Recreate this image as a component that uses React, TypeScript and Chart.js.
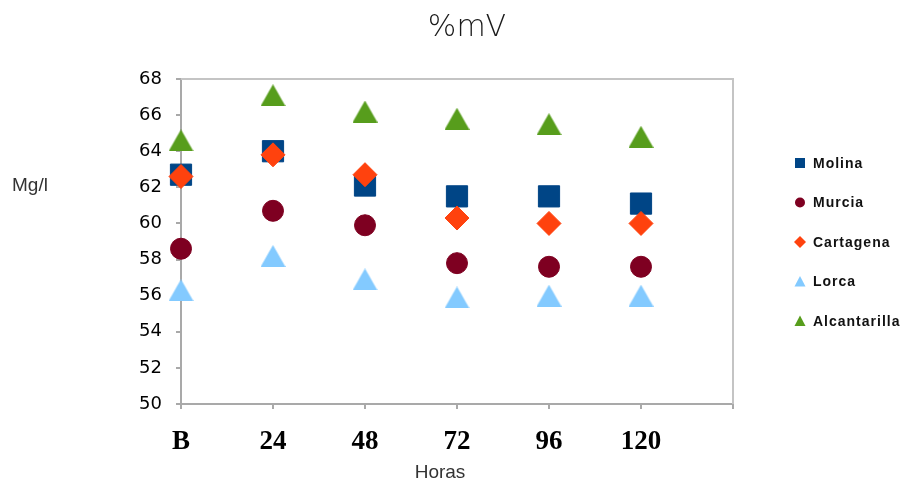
import { useEffect, useRef } from 'react';
import { Chart, registerables } from 'chart.js';

Chart.register(...registerables);

// Sampling times (B = baseline) and measured %mV per site
const hourLabels = ['B', '24', '48', '72', '96', '120'];
const molina = [62.7, 64.0, 62.1, 61.5, 61.5, 61.1];
const murcia = [58.6, 60.7, 59.9, 57.8, 57.6, 57.6];
const cartagena = [62.6, 63.8, 62.7, 60.3, 60.0, 60.0];
const lorca = [56.3, 58.2, 56.9, 55.9, 56.0, 56.0];
const alcantarilla = [64.6, 67.1, 66.2, 65.8, 65.5, 64.8];

const yMin = 50;
const yMax = 68;
const yStep = 2;

const chartTitle = '%mV';
const yTitle = 'Mg/l';
const xTitle = 'Horas';

type MarkerKind = 'rect' | 'circle' | 'diamond' | 'triangle';

const series: { label: string; values: number[]; color: string; marker: MarkerKind }[] = [
  { label: 'Molina', values: molina, color: '#004586', marker: 'rect' },
  { label: 'Murcia', values: murcia, color: '#7e0021', marker: 'circle' },
  { label: 'Cartagena', values: cartagena, color: '#ff420e', marker: 'diamond' },
  { label: 'Lorca', values: lorca, color: '#83caff', marker: 'triangle' },
  { label: 'Alcantarilla', values: alcantarilla, color: '#579d1c', marker: 'triangle' },
];

// Triangle drawn centred on its bounding box
function triangleImage(color: string, w: number, h: number) {
  const c = document.createElement('canvas');
  c.width = w;
  c.height = h;
  const g = c.getContext('2d')!;
  g.fillStyle = color;
  g.beginPath();
  g.moveTo(w / 2, 0);
  g.lineTo(w, h);
  g.lineTo(0, h);
  g.closePath();
  g.fill();
  return c;
}

function drawLegendMarker(ctx: CanvasRenderingContext2D, kind: MarkerKind, x: number, y: number, color: string) {
  ctx.fillStyle = color;
  ctx.beginPath();
  if (kind === 'rect') {
    ctx.rect(x - 5, y - 5, 10, 10);
  } else if (kind === 'circle') {
    ctx.arc(x, y, 5, 0, Math.PI * 2);
  } else if (kind === 'diamond') {
    ctx.moveTo(x, y - 6);
    ctx.lineTo(x + 6, y);
    ctx.lineTo(x, y + 6);
    ctx.lineTo(x - 6, y);
    ctx.closePath();
  } else {
    ctx.moveTo(x, y - 5.5);
    ctx.lineTo(x + 5.5, y + 5);
    ctx.lineTo(x - 5.5, y + 5);
    ctx.closePath();
  }
  ctx.fill();
}

const axisGray = '#a9a9a9';

const decorPlugin = {
  id: 'decor',
  afterDraw(chart: any) {
    const ctx: CanvasRenderingContext2D = chart.ctx;
    const { left, right, top, bottom } = chart.chartArea;
    ctx.save();

    // plot frame (top and right)
    ctx.strokeStyle = '#c4c4c4';
    ctx.lineWidth = 2;
    ctx.beginPath();
    ctx.moveTo(left, top);
    ctx.lineTo(right, top);
    ctx.lineTo(right, bottom);
    ctx.stroke();

    // title
    ctx.fillStyle = '#1a1a1a';
    ctx.font = '200 30px "DejaVu Sans"';
    ctx.textAlign = 'center';
    ctx.textBaseline = 'middle';
    ctx.fillText(chartTitle, 467, 28);

    // axis titles
    ctx.fillStyle = '#333';
    ctx.font = '19px "Liberation Sans"';
    ctx.textAlign = 'left';
    ctx.textBaseline = 'alphabetic';
    ctx.fillText(yTitle, 12, 191);
    ctx.textAlign = 'center';
    ctx.fillText(xTitle, 440, 478);

    // legend
    ctx.font = 'bold 14px "Liberation Sans"';
    (ctx as any).letterSpacing = '1px';
    ctx.textAlign = 'left';
    ctx.textBaseline = 'middle';
    series.forEach((s, i) => {
      const y = 163 + i * 39.5;
      drawLegendMarker(ctx, s.marker, 800, y, s.color);
      ctx.fillStyle = '#111';
      ctx.fillText(s.label, 813, y + 1);
    });
    ctx.restore();
  },
};

export default function App() {
  const canvasRef = useRef<HTMLCanvasElement | null>(null);

  useEffect(() => {
    const canvas = canvasRef.current;
    if (!canvas) return;

    const datasets = series.map((s, i) => {
      let pointStyle: any = 'rect';
      let radius = 15;
      if (s.marker === 'circle') {
        pointStyle = 'circle';
        radius = 10.5;
      } else if (s.marker === 'diamond') {
        pointStyle = 'rectRot';
        radius = 12;
      } else if (s.marker === 'triangle') {
        pointStyle = triangleImage(s.color, 25, 22);
        radius = 12;
      }
      return {
        label: s.label,
        data: s.values.map((v, idx) => ({ x: idx, y: v })),
        showLine: false,
        pointStyle,
        pointRadius: radius,
        pointHoverRadius: radius,
        pointBackgroundColor: s.color,
        pointBorderColor: s.color,
        pointBorderWidth: 1,
        backgroundColor: s.color,
        borderColor: s.color,
        clip: false as any,
        order: series.length - i,
      };
    });

    const gridOpts = {
      display: true,
      drawOnChartArea: false,
      drawTicks: true,
      tickLength: 5,
      color: axisGray,
      lineWidth: 2,
    };

    const chart = new Chart(canvas, {
      type: 'scatter',
      data: { datasets },
      plugins: [decorPlugin],
      options: {
        animation: false,
        responsive: false,
        maintainAspectRatio: false,
        layout: { padding: { top: 79, right: 172, left: 121, bottom: 29 } },
        plugins: {
          legend: { display: false },
          title: { display: false },
          tooltip: { enabled: false },
        },
        scales: {
          x: {
            type: 'linear',
            min: 0,
            max: hourLabels.length,
            afterFit: (s: any) => {
              s.height = 50;
            },
            ticks: {
              stepSize: 1,
              autoSkip: false,
              maxRotation: 0,
              color: '#000',
              padding: 17,
              font: { family: '"Liberation Serif"', size: 27, weight: 'bold' },
              callback: (v: any) => hourLabels[v] ?? '',
            },
            grid: gridOpts,
            border: { display: true, color: axisGray, width: 2 },
          },
          y: {
            min: yMin,
            max: yMax,
            afterFit: (s: any) => {
              s.width = 60;
            },
            ticks: {
              stepSize: yStep,
              color: '#000',
              padding: 14,
              font: { family: '"DejaVu Sans"', size: 18 },
            },
            grid: gridOpts,
            border: { display: true, color: axisGray, width: 2 },
          },
        },
      },
    });

    return () => chart.destroy();
  }, []);

  return (
    <div style={{ position: 'fixed', left: 0, top: 0, width: 905, height: 483, background: '#fff' }}>
      <canvas ref={canvasRef} width={905} height={483} style={{ display: 'block' }} />
    </div>
  );
}
